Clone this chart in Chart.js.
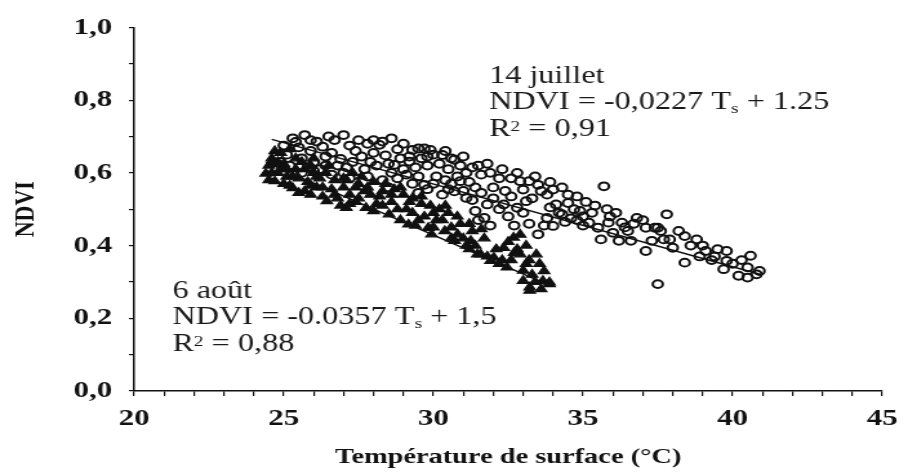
<!DOCTYPE html>
<html>
<head>
<meta charset="utf-8">
<script src="https://cdn.jsdelivr.net/npm/chart.js@4/dist/chart.umd.min.js"></script>
<style>
  html, body { margin: 0; padding: 0; background: #fff; }
</style>
</head>
<body>
<!-- the scanned figure is stretched sideways, so the canvas is too -->
<canvas id="c" width="704" height="474" style="display:block;width:908px;height:474px"></canvas>
<script>
// Axes
const xTicks = [20, 25, 30, 35, 40, 45];
const xTickLabels = ['20', '25', '30', '35', '40', '45'];
const yTicks = [0, 0.2, 0.4, 0.6, 0.8, 1.0];
const yTickLabels = ['0,0', '0,2', '0,4', '0,6', '0,8', '1,0'];
const xTitle = 'Température de surface (°C)';
const yTitle = 'NDVI';

// Séries (T surface, NDVI)
const seriesNames = ['14 juillet', '6 août'];

const juillet = [
  [25.3,0.695],[25.7,0.704],[26.1,0.686],[26.7,0.690],[27.0,0.704],[25.5,0.670],[25.9,0.660],[26.3,0.672],
  [26.6,0.655],[27.2,0.675],[27.4,0.660],[25.1,0.650],[25.6,0.640],[26.0,0.630],[26.4,0.645],[26.9,0.638],
  [27.3,0.630],[25.2,0.620],[25.8,0.615],[26.2,0.610],[26.8,0.620],[27.6,0.645],[27.8,0.680],[28.2,0.677],
  [28.3,0.686],[28.6,0.695],[28.0,0.655],[28.4,0.648],[28.8,0.665],[27.7,0.610],[28.1,0.620],[28.5,0.625],
  [28.9,0.640],[29.3,0.663],[29.5,0.667],[29.7,0.667],[29.9,0.663],[29.2,0.645],[29.6,0.640],[30.0,0.650],
  [29.0,0.610],[29.4,0.615],[29.8,0.620],[30.3,0.649],[30.6,0.640],[30.2,0.625],[30.5,0.610],[30.7,0.636],
  [30.9,0.620],[31.1,0.600],[30.1,0.590],[30.4,0.580],[30.8,0.590],[31.3,0.615],[31.5,0.620],[31.2,0.575],
  [31.6,0.595],[31.9,0.600],[32.2,0.585],[32.6,0.585],[32.9,0.577],[33.2,0.577],[33.0,0.554],[33.5,0.567],
  [33.6,0.550],[33.8,0.540],[34.0,0.554],[34.1,0.513],[34.5,0.540],[34.5,0.517],[34.9,0.495],[34.3,0.486],
  [33.8,0.476],[34.0,0.454],[33.5,0.431],[33.1,0.522],[32.8,0.504],[32.4,0.550],[32.35,0.513],[31.8,0.513],
  [31.4,0.495],[31.7,0.476],[31.1,0.531],[30.7,0.549],[30.3,0.540],[29.7,0.567],[29.1,0.595],[28.7,0.622],
  [29.2,0.631],[30.9,0.577],[32.0,0.530],[31.5,0.470],[31.9,0.455],[35.2,0.463],[35.5,0.449],[35.85,0.463],
  [36.3,0.463],[36.0,0.435],[35.6,0.417],[36.2,0.413],[36.6,0.413],[36.8,0.476],[37.1,0.449],[37.4,0.449],
  [37.8,0.486],[37.3,0.413],[37.1,0.385],[37.7,0.417],[35.7,0.563],[34.7,0.500],[35.0,0.480],[34.8,0.470],
  [35.3,0.490],[36.5,0.440],[37.5,0.449],[37.9,0.417],[38.0,0.394],[38.4,0.426],[38.8,0.417],[38.4,0.353],
  [39.1,0.385],[39.5,0.390],[39.8,0.385],[40.6,0.372],[39.7,0.335],[40.2,0.317],[40.5,0.312],[40.8,0.321],
  [40.5,0.340],[39.8,0.358],[37.5,0.294],[38.9,0.370],[40.9,0.330],[39.3,0.360],[35.9,0.480],[36.4,0.450],
  [34.2,0.490],[33.9,0.505],[34.6,0.475],
  [25.4,0.685],[25.9,0.690],[26.5,0.700],[27.5,0.690],[28.0,0.690],[29.0,0.680],[29.8,0.645],[30.4,0.660],
  [31.0,0.645],[31.8,0.625],[32.3,0.610],[32.8,0.600],[33.4,0.590],[33.9,0.575],[34.3,0.560],[34.8,0.535],
  [35.1,0.520],[35.4,0.510],[35.8,0.500],[36.1,0.490],[36.7,0.460],[37.0,0.470],[37.6,0.440],[38.2,0.440],
  [38.6,0.400],[39.0,0.400],[39.4,0.370],[40.0,0.350],[40.3,0.360],[26.4,0.620],[27.1,0.615],[27.9,0.630],
  [28.6,0.600],[29.5,0.590],[30.0,0.570],[30.6,0.570],[31.4,0.560],[32.0,0.560],[32.6,0.535],[33.3,0.530],
  [33.0,0.490],[32.5,0.480],[25.0,0.675],[24.9,0.630],[25.3,0.600],
  [27.2,0.585],[27.8,0.590],[28.3,0.580],[28.8,0.585],[29.3,0.570],[29.8,0.555],[30.5,0.555],[31.0,0.550],
  [31.6,0.545],[27.0,0.600],[26.6,0.595],[26.0,0.605],[25.6,0.600],[28.5,0.560],[29.5,0.545],[31.3,0.525],
  [32.2,0.500],[32.7,0.455],[33.2,0.460],[33.7,0.455],[34.4,0.465],[35.0,0.455]
];

const aout = [
  [24.4,0.598],[24.5,0.620],[24.6,0.640],[24.7,0.577],[24.8,0.600],[24.9,0.655],[25.0,0.625],[25.1,0.590],
  [25.2,0.565],[25.3,0.558],[25.4,0.610],[25.5,0.585],[25.6,0.630],[25.7,0.550],[25.8,0.575],[25.9,0.540],
  [26.0,0.600],[26.1,0.560],[26.2,0.585],[26.3,0.535],[26.44,0.522],[26.6,0.555],[26.7,0.580],[26.8,0.530],
  [27.0,0.560],[27.09,0.504],[27.2,0.540],[27.4,0.520],[27.5,0.570],[27.75,0.504],[27.9,0.540],[28.1,0.515],
  [28.3,0.550],[28.52,0.486],[28.6,0.520],[28.8,0.500],[29.0,0.540],[29.17,0.458],[29.3,0.490],[29.5,0.470],
  [29.6,0.515],[29.83,0.449],[29.94,0.431],[30.1,0.470],[30.38,0.440],[30.5,0.490],[30.71,0.413],[30.81,0.431],
  [30.9,0.460],[31.1,0.400],[31.25,0.413],[31.47,0.376],[31.58,0.376],[31.7,0.420],[31.91,0.358],[32.02,0.367],
  [32.2,0.350],[32.35,0.394],[32.46,0.340],[32.68,0.422],[32.8,0.390],[32.9,0.376],[33.0,0.331],[33.0,0.303],
  [33.22,0.285],[33.22,0.276],[33.44,0.376],[33.55,0.350],[33.66,0.303],[33.88,0.294],[33.88,0.299],[32.6,0.360],
  [33.3,0.320],[28.0,0.575],[28.9,0.560],[27.6,0.590],[26.5,0.620],[25.2,0.665],[24.7,0.660],[29.3,0.530],
  [30.2,0.500],[31.3,0.440],[27.3,0.600],
  [24.5,0.580],[24.6,0.600],[24.8,0.630],[25.0,0.570],[25.3,0.590],[25.5,0.545],[25.9,0.565],[26.1,0.590],
  [26.3,0.560],[26.7,0.540],[26.9,0.510],[27.2,0.515],[27.5,0.530],[27.7,0.550],[28.0,0.495],[28.3,0.510],
  [28.6,0.540],[28.9,0.470],[29.1,0.500],[29.4,0.455],[29.7,0.480],[30.0,0.450],[30.3,0.470],[30.6,0.420],
  [30.6,0.450],[31.0,0.420],[31.2,0.390],[31.4,0.400],[31.8,0.370],[32.1,0.390],[32.3,0.360],[32.5,0.410],
  [32.7,0.380],[33.1,0.350],[33.4,0.300],[33.6,0.280],[33.7,0.330],[33.1,0.400],[32.9,0.430],[33.2,0.360],
  [26.0,0.640],[25.7,0.610],[27.1,0.580],[28.4,0.570],[29.9,0.510],
  [27.0,0.585],[27.4,0.560],[27.8,0.560],[28.2,0.535],[28.7,0.555],[29.2,0.520],[29.6,0.535],[30.0,0.490],
  [30.4,0.510],[30.8,0.480],[31.2,0.460],[31.6,0.445],[26.4,0.600],[25.9,0.620],[25.4,0.640],[24.9,0.610],
  [24.6,0.625],[25.1,0.610]
];

// Droites de régression (extrémités)
const fitJuillet = [[24.6, 0.692], [41.0, 0.319]];
const fitAout = [[24.4, 0.629], [33.9, 0.290]];

// Équations
const noteJuillet = ['14 juillet', 'NDVI = -0,0227 T_s + 1.25', 'R^2 = 0,91'];
const noteAout = ['6 août', 'NDVI = -0.0357 T_s + 1,5', 'R^2 = 0,88'];

const ink = '#111';
const serif = '"Liberation Serif", "Times New Roman", serif';
const toXY = arr => arr.map(p => ({ x: p[0], y: p[1] }));

function labelFor(value, ticks, labels) {
    const i = ticks.findIndex(v => Math.abs(v - value) < 1e-6);
    return i >= 0 ? labels[i] : '';
}

// texte avec indice (_s) ou petit chiffre surélevé (^2)
function drawRich(ctx, text, x0, y0) {
    const big = '25px ' + serif;
    const small = '15px ' + serif;
    let cx = x0;
    text.split(/([_^].)/).forEach(p => {
        if (!p) return;
        if (p[0] === '_' || p[0] === '^') {
            ctx.font = small;
            ctx.fillText(p[1], cx, y0 + (p[0] === '_' ? 4 : -5));
            cx += ctx.measureText(p[1]).width;
        } else {
            ctx.font = big;
            ctx.fillText(p, cx, y0);
            cx += ctx.measureText(p).width;
        }
    });
}

const notesPlugin = {
    id: 'notes',
    afterDatasetsDraw(chart) {
        const { ctx, scales: { x, y } } = chart;
        const blocks = [
            { lines: noteJuillet, at: [31.86, 0.848] },
            { lines: noteAout, at: [21.28, 0.257] }
        ];
        ctx.save();
        ctx.fillStyle = '#1a1a1a';
        ctx.textBaseline = 'alphabetic';
        blocks.forEach(b => {
            const px = x.getPixelForValue(b.at[0]);
            const py = y.getPixelForValue(b.at[1]);
            b.lines.forEach((line, i) => drawRich(ctx, line, px, py + i * 26.5));
        });
        ctx.restore();
    }
};

new Chart(document.getElementById('c'), {
    type: 'scatter',
    data: {
        datasets: [
            {
                label: seriesNames[0],
                data: toXY(juillet),
                pointStyle: 'circle',
                pointRadius: 3.9,
                borderWidth: 2,
                borderColor: ink,
                backgroundColor: 'rgba(255,255,255,0)'
            },
            {
                label: seriesNames[1],
                data: toXY(aout),
                pointStyle: 'triangle',
                pointRadius: 5,
                borderWidth: 1.3,
                borderColor: ink,
                backgroundColor: ink
            },
            {
                type: 'line',
                label: 'fit ' + seriesNames[0],
                data: toXY(fitJuillet),
                borderColor: ink,
                borderWidth: 1.5,
                pointRadius: 0,
                fill: false
            },
            {
                type: 'line',
                label: 'fit ' + seriesNames[1],
                data: toXY(fitAout),
                borderColor: ink,
                borderWidth: 1.5,
                pointRadius: 0,
                fill: false
            }
        ]
    },
    options: {
        responsive: false,
        animation: false,
        devicePixelRatio: 1,
        layout: { padding: { top: 25, right: 10, left: 0, bottom: 0 } },
        plugins: { legend: { display: false }, tooltip: { enabled: false } },
        scales: {
            x: {
                type: 'linear',
                min: 20,
                max: 45,
                afterFit: s => { s.height = 83; },
                border: { display: true, color: ink, width: 1.5 },
                grid: { drawOnChartArea: false, color: ink, tickColor: ink, tickLength: 5, lineWidth: 1.2 },
                ticks: {
                    stepSize: 1,
                    autoSkip: false,
                    maxRotation: 0,
                    padding: 8,
                    color: ink,
                    font: { family: serif, size: 24, weight: 'bold' },
                    callback: v => labelFor(v, xTicks, xTickLabels)
                },
                title: {
                    display: true,
                    text: xTitle,
                    color: ink,
                    font: { family: serif, size: 22, weight: 'bold' },
                    padding: { top: 0, bottom: 3 }
                }
            },
            y: {
                min: 0,
                max: 1,
                afterFit: s => { s.width = 104; },
                border: { display: true, color: ink, width: 1.5 },
                grid: { drawOnChartArea: false, color: ink, tickColor: ink, tickLength: 4, lineWidth: 1.2 },
                ticks: {
                    stepSize: 0.1,
                    autoSkip: false,
                    padding: 13,
                    color: ink,
                    font: { family: serif, size: 24, weight: 'bold' },
                    callback: v => labelFor(v, yTicks, yTickLabels)
                },
                title: {
                    display: true,
                    text: yTitle,
                    color: ink,
                    font: { family: serif, size: 22, weight: 'bold' },
                    padding: { top: 7, bottom: 0 }
                }
            }
        }
    },
    plugins: [notesPlugin]
});
</script>
</body>
</html>
